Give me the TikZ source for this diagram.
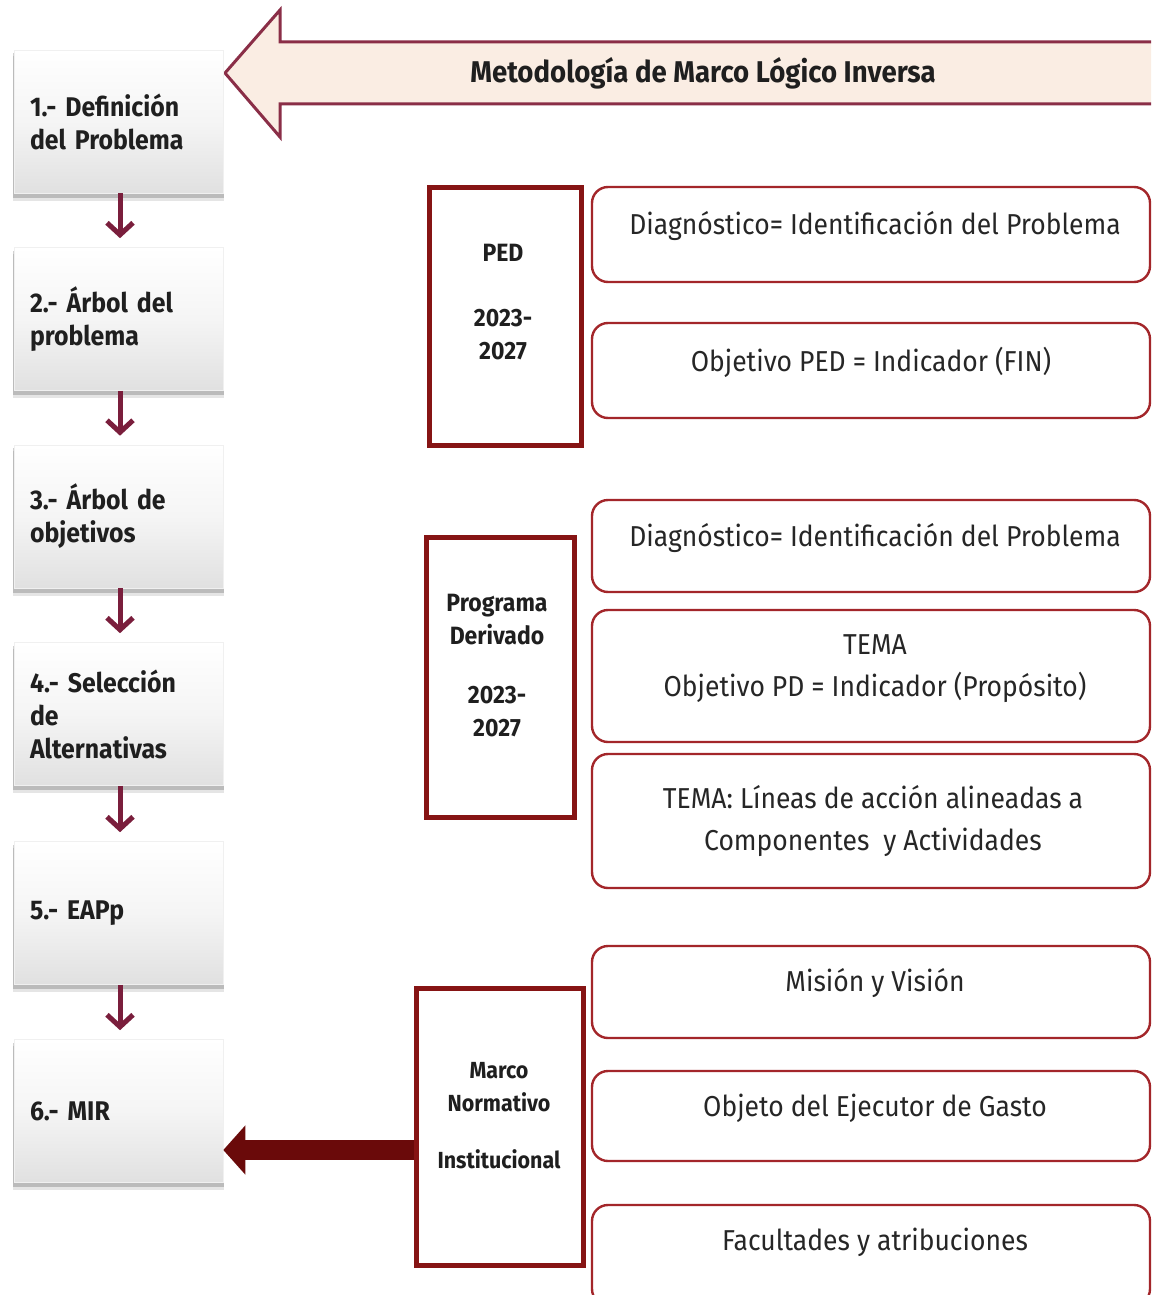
\documentclass[tikz,border=0pt]{standalone}
\usepackage{fontspec}
\setmainfont[FakeStretch=0.92]{Fira Sans}
\usetikzlibrary{arrows.meta,shadows}
\definecolor{arrowfill}{HTML}{FAEDE3}
\definecolor{arrowline}{HTML}{8A2E47}
\definecolor{wine}{HTML}{7A1E3C}
\definecolor{rectred}{HTML}{861414}
\definecolor{roundred}{HTML}{A3262A}
\definecolor{thickred}{HTML}{6A0A0A}
\begin{document}
\begin{tikzpicture}[x=1pt,y=-1pt,
  stepbox/.style={draw=black!6, line width=0.6pt, minimum width=209pt, minimum height=143pt,
    top color=white, bottom color=black!12, middle color=white!96!black,
    drop shadow={shadow xshift=0pt, shadow yshift=-7pt, shadow scale=1.01, opacity=0.10, fill=black},
    drop shadow={shadow xshift=0pt, shadow yshift=-4pt, shadow scale=1.01, opacity=0.18, fill=black},
    text width=177pt, align=left, inner xsep=16pt,
    font=\bfseries\fontsize{27}{33}\selectfont, text=black!88},
  downarrow/.style={draw=wine, line width=5pt, shorten >=9pt,
    -{Straight Barb[length=12pt,width=26pt,line width=5pt]}},
  rectbox/.style={draw=rectred, line width=5pt, fill=white},
  recttext/.style={font=\bfseries\fontsize{25}{35}\selectfont, align=center, text=black!88},
  smalltext/.style={font=\bfseries\fontsize{23.3}{33}\selectfont, align=center, text=black!88},
  rbox/.style={draw=roundred, line width=2.4pt, rounded corners=16pt, minimum width=558pt, fill=white},
  rtext/.style={font=\fontsize{28.8}{42}\selectfont, align=center, text=black!85},
  bigarrow/.style={draw=thickred, line width=20pt, -{Triangle[length=22pt,width=48pt]}}
]
\clip (0,0) rectangle (1151,1295);
\fill[white] (0,0) rectangle (1151,1295);

% top big arrow
\draw[fill=arrowfill, draw=arrowline, line width=3pt, line join=miter]
  (225,73) -- (280,10) -- (280,42) -- (1170,42) -- (1170,104) -- (280,104) -- (280,137) -- cycle;
\node[font=\bfseries\fontsize{30}{30}\selectfont, text=black!88] (title) at (703,73) {Metodología de Marco Lógico Inversa};

% left steps
\node[stepbox] (b1) at (118.5,121.5) {1.- Definición\\del Problema};
\node[stepbox] (b2) at (118.5,319) {2.- Árbol del\\problema};
\node[stepbox] (b3) at (118.5,516.5) {3.- Árbol de\\objetivos};
\node[stepbox] (b4) at (118.5,714) {4.- Selección\\de\\Alternativas};
\node[stepbox] (b5) at (118.5,913) {5.- EAPp};
\node[stepbox] (b6) at (118.5,1111) {6.- MIR};

\foreach \a/\b in {b1/b2,b2/b3,b3/b4,b4/b5,b5/b6}
  \draw[downarrow] ([xshift=1.5pt]\a.south) -- ([xshift=1.5pt]\b.north);

% rectangular boxes
\node[rectbox, minimum width=152pt, minimum height=258pt] (ped) at (505,316) {};
\node[recttext] (pedt) at (503,253) {PED};
\node[recttext] (pedy) at (503,334.5) {2023-\\[-2pt]2027};

\node[rectbox, minimum width=148pt, minimum height=280pt] (pd) at (500,677) {};
\node[recttext] (pdt) at (497,619.5) {Programa\\[-2pt]Derivado};
\node[recttext] (pdy) at (497,711.5) {2023-\\[-2pt]2027};

\node[rectbox, minimum width=167pt, minimum height=277pt] (mn) at (499.5,1126.5) {};
\node[smalltext] (mnt) at (499,1087.5) {Marco\\[0pt]Normativo};
\node[smalltext] (mni) at (499,1159) {Institucional};

% thick arrow
\coordinate (lvl) at (0,1150);
\draw[bigarrow] (mn.west |- lvl) -- (b6.east |- lvl);

% rounded boxes
\node[rbox, minimum height=95pt] (r1) at (871,234.5) {};
\node[rtext] (r1t) at (875,226) {Diagnóstico= Identificación del Problema};
\node[rbox, minimum height=95pt] (r2) at (871,370.5) {};
\node[rtext] (r2t) at (871,362) {Objetivo PED = Indicador (FIN)};
\node[rbox, minimum height=92pt] (r3) at (871,546) {};
\node[rtext] (r3t) at (875,538) {Diagnóstico= Identificación del Problema};
\node[rbox, minimum height=132pt] (r4) at (871,676) {};
\node[rtext] (r4t) at (875,669) {TEMA\\Objetivo PD = Indicador (Propósito)};
\node[rbox, minimum height=134pt] (r5) at (871,821) {};
\node[rtext] (r5t) at (873,821) {TEMA: Líneas de acción alineadas a\\Componentes \ y Actividades};
\node[rbox, minimum height=92pt] (r6) at (871,992) {};
\node[rtext] (r6t) at (875,983) {Misión y Visión};
\node[rbox, minimum height=90pt] (r7) at (871,1116) {};
\node[rtext] (r7t) at (875,1108) {Objeto del Ejecutor de Gasto};
\node[rbox, minimum height=100pt] (r8) at (871,1255) {};
\node[rtext] (r8t) at (875,1242) {Facultades y atribuciones};
\end{tikzpicture}
\end{document}
